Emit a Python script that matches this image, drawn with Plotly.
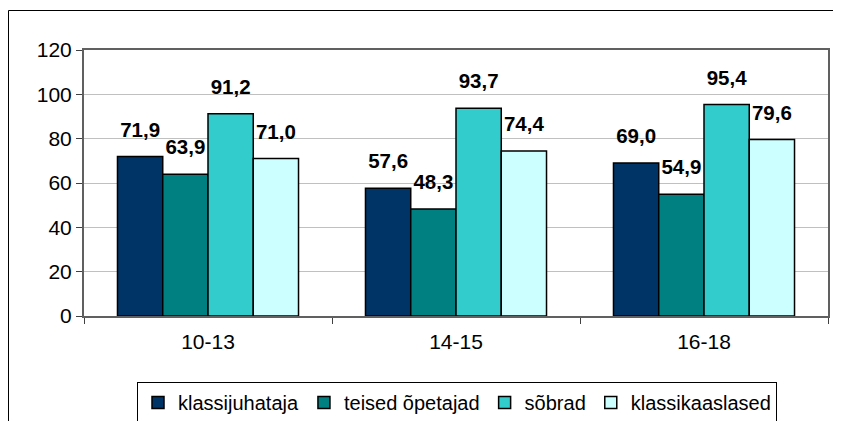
import plotly.graph_objects as go

categories = ["10-13", "14-15", "16-18"]
series_names = ["klassijuhataja", "teised õpetajad", "sõbrad", "klassikaaslased"]
klassijuhataja = [71.9, 57.6, 69.0]
teised_opetajad = [63.9, 48.3, 54.9]
sobrad = [91.2, 93.7, 95.4]
klassikaaslased = [71.0, 74.4, 79.6]
y_ticks = [0, 20, 40, 60, 80, 100, 120]

colors = ["#003366", "#008080", "#33CCCC", "#CCFFFF"]
values = [klassijuhataja, teised_opetajad, sobrad, klassikaaslased]

# page body has an 8px margin; figure sized to fit the window
W, H = 833, 413
L, R, T, B = 76, 13, 42, 105
pw = W - L - R
ph = H - T - B

fig = go.Figure()
for i, (name, vals, col) in enumerate(zip(series_names, values, colors)):
    fig.add_trace(go.Bar(
        x=categories, y=vals, name=name, offsetgroup=str(i),
        marker=dict(color=col, line=dict(color="black", width=1.5)),
    ))
for i, (name, vals) in enumerate(zip(series_names, values)):
    fig.add_trace(go.Scatter(
        x=categories, y=vals, name=name, offsetgroup=str(i), showlegend=False,
        mode="markers+text", marker=dict(size=22, color="rgba(0,0,0,0)"),
        texttemplate="%{y:.1f}", textposition="top center",
        textfont=dict(family="Liberation Sans, Arial", size=20.5, color="black", weight="bold"),
        cliponaxis=False, hoverinfo="skip",
    ))

fig.add_shape(type="rect", xref="paper", yref="paper",
              x0=(0.5 - L) / pw, x1=(W + 20 - L) / pw,
              y0=(-(B + 20)) / ph, y1=(ph + T - 2.5) / ph,
              line=dict(color="black", width=1), layer="below")

fig.update_layout(
    width=W, height=H,
    margin=dict(l=L, r=R, t=T, b=B, autoexpand=False),
    paper_bgcolor="white", plot_bgcolor="white",
    barmode="group", bargap=0.27, bargroupgap=0,
    scattermode="group", scattergap=0.27,
    separators=",.",
    font=dict(family="Liberation Sans, Arial", size=21, color="black"),
    showlegend=True,
    legend=dict(orientation="h", xanchor="center", x=(449 - L) / pw,
                yanchor="top", y=(-(374 - (T + ph))) / ph,
                bordercolor="black", borderwidth=1,
                font=dict(size=20), itemwidth=30, tracegroupgap=0),
)
fig.update_yaxes(range=[0, 120], tickvals=y_ticks, showgrid=True, gridcolor="#c0c0c0", gridwidth=1,
                 showline=True, linecolor="#606060", linewidth=2, mirror=True,
                 ticks="outside", ticklen=6, tickcolor="#404040", zeroline=False,
                 automargin=False)
fig.update_xaxes(showline=True, linecolor="#606060", linewidth=2, mirror=True,
                 ticks="outside", tickson="boundaries", ticklen=6, tickcolor="#404040",
                 automargin=False, ticklabelstandoff=6)

fig.write_html("out.html")
